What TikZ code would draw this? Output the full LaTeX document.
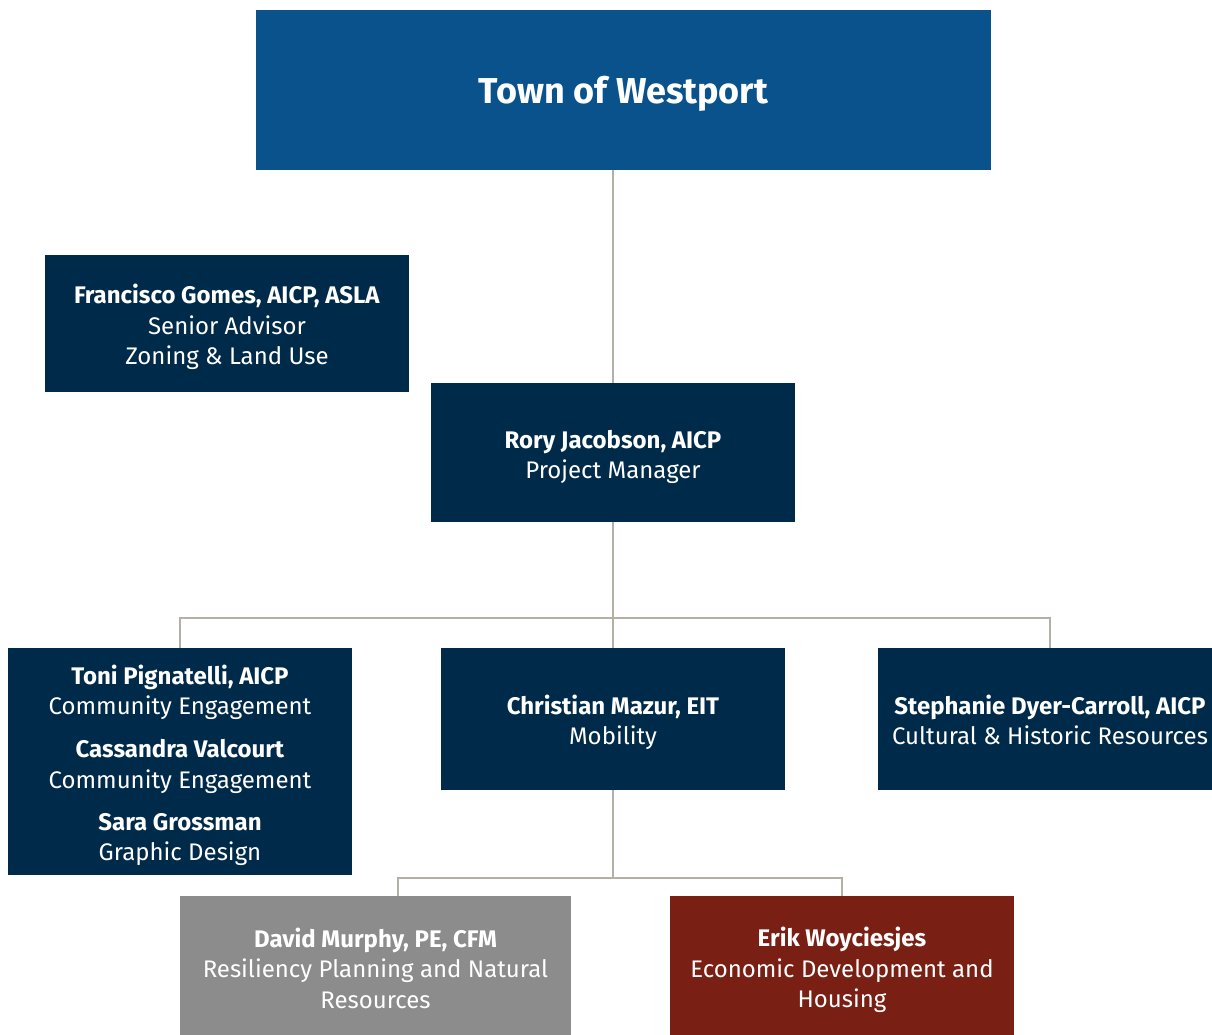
\documentclass[tikz,border=0pt]{standalone}
\usepackage{fontspec}
\setmainfont{Fira Sans}
\begin{document}
\begin{tikzpicture}[x=1pt,y=-1pt,
  box/.style={rectangle,inner sep=0pt},
  txt/.style={text=white,align=center,inner sep=0pt,
    font=\fontsize{24}{30.5}\selectfont},
  navybox/.style={box,fill=navy},
  link/.style={draw=linkgray,line width=2.5pt}]
\definecolor{navy}{RGB}{0,42,74}
\definecolor{topblue}{RGB}{10,82,140}
\definecolor{midgray}{RGB}{140,140,140}
\definecolor{rust}{RGB}{122,31,20}
\definecolor{linkgray}{RGB}{180,176,166}
\useasboundingbox (0,0) rectangle (1212,1034);

% title and lead
\node[box,fill=topblue,minimum width=735pt,minimum height=160pt,
  label={[txt,yshift=-4pt,font=\fontsize{36}{40}\selectfont\bfseries]center:Town of Westport}]
  (town) at (623.5,90) {};
\node[navybox,minimum width=364pt,minimum height=137pt,
  label={[txt,yshift=-3.5pt]center:{\textbf{Francisco Gomes, AICP, ASLA}\\Senior Advisor\\Zoning \& Land Use}}]
  (gomes) at (227,323.5) {};
\node[navybox,minimum width=364pt,minimum height=139pt,
  label={[txt,yshift=-4.5pt]center:{\textbf{Rory Jacobson, AICP}\\Project Manager}}]
  (rory) at (613,452.5) {};

% team row
\node[navybox,minimum width=344pt,minimum height=227pt,
  label={[txt,yshift=-4pt]center:{\textbf{Toni Pignatelli, AICP}\\Community Engagement\\[12.5pt]
   \textbf{Cassandra Valcourt}\\Community Engagement\\[11.5pt]
   \textbf{Sara Grossman}\\Graphic Design}}]
  (toni) at (180,761.5) {};
\node[navybox,minimum width=344pt,minimum height=142pt,
  label={[txt,yshift=-3.5pt]center:{\textbf{Christian Mazur, EIT}\\Mobility}}]
  (mazur) at (613,719) {};
\node[navybox,minimum width=344pt,minimum height=142pt,
  label={[txt,yshift=-1pt]center:{\textbf{Stephanie Dyer-Carroll, AICP}\\Cultural \& Historic Resources}}]
  (dyer) at (1050,719) {};

% bottom row
\node[box,fill=midgray,minimum width=391pt,minimum height=144pt,
  label={[txt]center:{\textbf{David Murphy, PE, CFM}\\Resiliency Planning and Natural\\Resources}}]
  (murphy) at (375.5,968) {};
\node[box,fill=rust,minimum width=344pt,minimum height=144pt,
  label={[txt,yshift=-2pt]center:{\textbf{Erik Woyciesjes}\\Economic Development and\\Housing}}]
  (erik) at (842,968) {};

% connectors
\coordinate (bar) at (613,618);
\coordinate (bar2) at (613,878);
\draw[link] (rory.north) -- (rory.north |- town.south);
\draw[link] (rory.south) -- (mazur.north);
\draw[link] (toni.north) |- (bar) -| (dyer.north);
\draw[link] (mazur.south) -- (mazur.south |- bar2);
\draw[link] ([xshift=22.5pt]murphy.north) |- (bar2) -| (erik.north);
\end{tikzpicture}
\end{document}
